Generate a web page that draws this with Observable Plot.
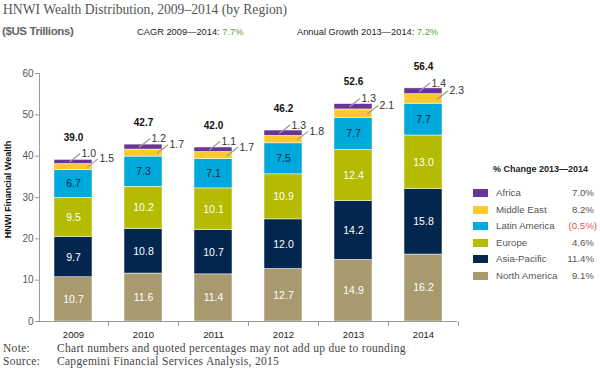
<!DOCTYPE html>
<html>
<head>
<meta charset="utf-8">
<script src="https://cdn.jsdelivr.net/npm/d3@7"></script>
<script src="https://cdn.jsdelivr.net/npm/@observablehq/plot@0.6"></script>
<style>
  body { margin: 0; background: #fff; font-family: "Liberation Sans", Arial, sans-serif; }
  #wrap { position: relative; width: 600px; height: 382px; overflow: hidden; }
  .abs { position: absolute; white-space: nowrap; }
  .serif { font-family: "Liberation Serif", "Times New Roman", serif; }
  #chart { position: absolute; left: 0; top: 0; }
  .green { color: #5ba133; }
  .leg-sw { position: absolute; width: 15px; height: 8px; }
  .leg-lab { position: absolute; font-size: 9.7px; color: #555; }
  .leg-val { position: absolute; font-size: 9.7px; color: #555; text-align: right; }
  .note { font-size: 11.5px; line-height: 12px; letter-spacing: 0.3px; color: #444; }
</style>
</head>
<body>
<div id="wrap">
  <div id="chart"></div>
  <div class="abs serif" style="left:3px; top:2px; font-size:13.6px; color:#555;">HNWI Wealth Distribution, 2009–2014 (by Region)</div>
  <div class="abs" style="left:2px; top:25px; font-size:11.5px; font-weight:bold; color:#666; letter-spacing:-0.4px;">($US Trillions)</div>
  <div class="abs" style="left:137px; top:27px; font-size:9.3px; color:#222;">CAGR 2009—2014: <span class="green">7.7%</span></div>
  <div class="abs" style="left:297px; top:27px; font-size:9.3px; color:#222;">Annual Growth 2013—2014: <span class="green">7.2%</span></div>
  <div id="legend"></div>
  <div class="abs serif note" style="left:3px; top:341.5px;">Note:</div>
  <div class="abs serif note" style="left:57px; top:341.5px;">Chart numbers and quoted percentages may not add up due to rounding</div>
  <div class="abs serif note" style="left:3px; top:355px;">Source:</div>
  <div class="abs serif note" style="left:57px; top:355px;">Capgemini Financial Services Analysis, 2015</div>
</div>
<script>
const years = ["2009", "2010", "2011", "2012", "2013", "2014"];
const regions = ["North America", "Asia-Pacific", "Europe", "Latin America", "Middle East", "Africa"];
const northAmerica = [10.7, 11.6, 11.4, 12.7, 14.9, 16.2];
const asiaPacific  = [9.7, 10.8, 10.7, 12.0, 14.2, 15.8];
const europe       = [9.5, 10.2, 10.1, 10.9, 12.4, 13.0];
const latinAmerica = [6.7, 7.3, 7.1, 7.5, 7.7, 7.7];
const middleEast   = [1.5, 1.7, 1.7, 1.8, 2.1, 2.3];
const africa       = [1.0, 1.2, 1.1, 1.3, 1.3, 1.4];
const totals       = [39.0, 42.7, 42.0, 46.2, 52.6, 56.4];
const legendOrder  = ["Africa", "Middle East", "Latin America", "Europe", "Asia-Pacific", "North America"];
const pctChange    = ["7.0%", "8.2%", "(0.5%)", "4.6%", "11.4%", "9.1%"];
const colors = ["#a8996e", "#03264f", "#b4bb00", "#00a9dc", "#ffc82e", "#6a3494"];
const yTicks = [0, 10, 20, 30, 40, 50, 60];

const series = [northAmerica, asiaPacific, europe, latinAmerica, middleEast, africa];
const data = [];
years.forEach((yr, i) => regions.forEach((r, j) => data.push({year: yr, region: r, value: series[j][i]})));

const small = years.map((yr, i) => {
  const base = northAmerica[i] + asiaPacific[i] + europe[i] + latinAmerica[i];
  return {
    year: yr,
    me: middleEast[i], meMid: base + middleEast[i] / 2,
    af: africa[i], afMid: base + middleEast[i] + africa[i] / 2,
    top: base + middleEast[i] + africa[i],
    total: totals[i]
  };
});

const lineShape = { draw(ctx, l) { ctx.moveTo(0, 0); ctx.lineTo(0, -l); } };
const textColor = new Map([["North America", "#fff"], ["Asia-Pacific", "#fff"], ["Europe", "#fff"], ["Latin America", "#0b2545"]]);

const chart = Plot.plot({
  width: 600,
  height: 382,
  marginLeft: 39,
  marginRight: 143,
  marginTop: 73,
  marginBottom: 61,
  style: { fontFamily: "Liberation Sans, Arial, sans-serif", background: "transparent" },
  x: { type: "band", domain: years, paddingInner: 0.457, paddingOuter: 0.21, axis: null },
  y: { domain: [0, 60], axis: null },
  color: { domain: regions, range: colors },
  marks: [
    Plot.barY(data, Plot.stackY({x: "year", y: "value", fill: "region", order: regions, stroke: "#fff", strokeWidth: 0.5})),
    Plot.text(data, Plot.stackY({
      x: "year", y: "value", order: regions,
      text: d => textColor.has(d.region) ? d.value.toFixed(1) : "",
      fill: d => textColor.get(d.region) || "none",
      fontSize: 10.5
    })),
    Plot.vector(small, {x: "year", y: "afMid", dx: -4, length: 13, rotate: 52, anchor: "start", shape: lineShape, stroke: "#9a9a9a", strokeWidth: 1.2}),
    Plot.vector(small, {x: "year", y: "meMid", dx: 14, length: 13, rotate: 52, anchor: "start", shape: lineShape, stroke: "#9a9a9a", strokeWidth: 1.2}),
    Plot.text(small, {x: "year", y: "afMid", text: d => d.af.toFixed(1), dx: 8, dy: -8, textAnchor: "start", fill: "#333", fontSize: 10.5}),
    Plot.text(small, {x: "year", y: "meMid", text: d => d.me.toFixed(1), dx: 26, dy: -8, textAnchor: "start", fill: "#333", fontSize: 10.5}),
    Plot.text(small, {x: "year", y: "top", text: d => d.total.toFixed(1), dy: -22, fill: "#111", fontWeight: "bold", fontSize: 10}),
    Plot.ruleY([0], {stroke: "#999", strokeWidth: 1}),
    Plot.frame({anchor: "left", stroke: "#999", strokeWidth: 1}),
    Plot.vector(years, {x: d => d, y: 0, dx: 35, length: 4, rotate: 180, anchor: "start", shape: lineShape, stroke: "#999", strokeWidth: 1}),
    Plot.axisY({ticks: yTicks, tickSize: 4, tickPadding: 2, stroke: "#999", fill: "#555", fontSize: 10, label: null}),
    Plot.text(years, {x: d => d, frameAnchor: "bottom", lineAnchor: "middle", dy: 13.5, fill: "#222", fontSize: 9.6}),
    Plot.text(["HNWI Financial Wealth"], {frameAnchor: "left", textAnchor: "middle", dx: -31, dy: -8, rotate: -90, fontWeight: "bold", fontSize: 9, fill: "#111"})
  ]
});
document.getElementById("chart").appendChild(chart);

// Legend
const leg = document.getElementById("legend");
const head = document.createElement("div");
head.className = "abs";
head.style.cssText = "left:493px; top:164px; font-size:9px; font-weight:bold; color:#222;";
head.textContent = "% Change 2013—2014";
leg.appendChild(head);
legendOrder.forEach((r, k) => {
  const cy = 193 + k * 16.6;
  const sw = document.createElement("div");
  sw.className = "leg-sw";
  sw.style.left = "473px"; sw.style.top = (cy - 4) + "px";
  sw.style.background = colors[regions.indexOf(r)];
  leg.appendChild(sw);
  const lab = document.createElement("div");
  lab.className = "leg-lab abs";
  lab.style.left = "496px"; lab.style.top = (cy - 6) + "px";
  lab.textContent = r;
  leg.appendChild(lab);
  const v = document.createElement("div");
  v.className = "leg-val abs";
  const neg = pctChange[k].startsWith("(");
  v.style.right = (neg ? 3 : 6) + "px"; v.style.top = (cy - 6) + "px";
  if (neg) v.style.color = "#e0524f";
  v.textContent = pctChange[k];
  leg.appendChild(v);
});
</script>
</body>
</html>
